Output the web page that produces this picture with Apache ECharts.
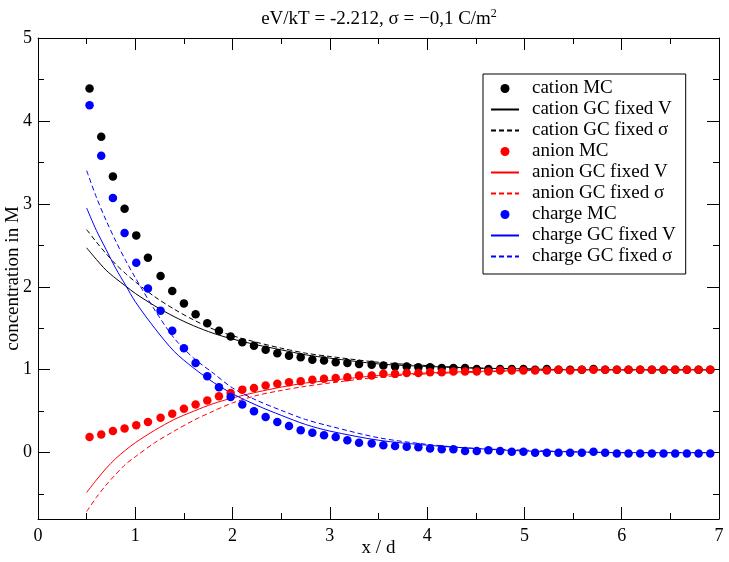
<!DOCTYPE html>
<html>
<head>
<meta charset="utf-8">
<script src="https://cdn.jsdelivr.net/npm/echarts@6/dist/echarts.min.js"></script>
<style>html,body{margin:0;padding:0;background:#fff;}#c{width:729px;height:562px;}</style>
</head>
<body>
<div id="c"></div>
<script>
// Monte Carlo sample positions (x / d)
const mcX = [0.53,0.65,0.77,0.89,1.01,1.13,1.26,1.38,1.50,1.62,1.74,1.86,1.98,2.10,2.22,2.34,2.46,2.58,2.70,2.82,2.94,3.06,3.18,3.30,3.43,3.55,3.67,3.79,3.91,4.03,4.15,4.27,4.39,4.51,4.63,4.75,4.87,4.99,5.11,5.23,5.35,5.47,5.59,5.71,5.83,5.95,6.07,6.19,6.31,6.43,6.55,6.67,6.79,6.91];
const cationMC = [4.39,3.81,3.33,2.94,2.62,2.35,2.13,1.95,1.80,1.67,1.56,1.47,1.40,1.33,1.29,1.24,1.20,1.17,1.15,1.12,1.11,1.09,1.08,1.07,1.06,1.05,1.04,1.04,1.03,1.03,1.02,1.02,1.02,1.01,1.01,1.01,1.01,1.01,1.00,1.01,1.00,1.00,1.00,1.01,1.00,1.00,1.00,1.00,1.00,1.00,1.00,1.00,1.00,1.00];
const anionMC = [0.19,0.22,0.26,0.29,0.33,0.37,0.42,0.47,0.53,0.58,0.63,0.68,0.72,0.76,0.78,0.81,0.83,0.85,0.86,0.88,0.89,0.90,0.91,0.93,0.93,0.95,0.95,0.96,0.96,0.97,0.97,0.98,0.98,0.98,0.98,0.99,0.99,0.99,0.99,0.99,1.00,0.99,1.00,1.00,1.00,1.00,1.00,1.00,1.00,1.00,1.00,1.00,1.00,1.00];
const chargeMC = [4.19,3.58,3.07,2.65,2.29,1.98,1.71,1.47,1.26,1.08,0.92,0.79,0.67,0.58,0.50,0.43,0.37,0.32,0.27,0.24,0.21,0.19,0.15,0.12,0.11,0.09,0.08,0.07,0.065,0.05,0.04,0.04,0.02,0.02,0.03,0.02,0.01,0.01,0.00,0.00,0.00,0.00,0.00,0.01,0.00,-0.01,-0.01,-0.01,-0.01,-0.01,-0.01,-0.01,-0.01,-0.01];

// Gouy-Chapman curves
const lineX = [0.5,0.6,0.7,0.8,0.9,1.0,1.2,1.4,1.6,1.8,2.0,2.25,2.5,2.75,3.0,3.5,4.0,4.5,5.0,5.5,6.0,6.5,6.95];
const cationV = [2.47,2.33,2.20,2.10,2.01,1.92,1.77,1.64,1.53,1.44,1.37,1.30,1.24,1.18,1.14,1.07,1.04,1.02,1.01,1.00,1.00,1.00,1.00];
const cationS = [2.69,2.54,2.40,2.27,2.16,2.06,1.88,1.73,1.60,1.49,1.41,1.33,1.26,1.20,1.16,1.09,1.05,1.02,1.01,1.00,1.00,1.00,1.00];
const anionV = [-0.48,-0.33,-0.19,-0.07,0.03,0.12,0.27,0.40,0.50,0.59,0.66,0.73,0.79,0.84,0.87,0.93,0.96,0.98,0.99,1.00,1.00,1.00,1.00];
const anionS = [-0.71,-0.54,-0.39,-0.26,-0.14,-0.05,0.12,0.26,0.39,0.50,0.60,0.69,0.75,0.80,0.84,0.91,0.95,0.97,0.99,1.00,1.00,1.00,1.00];
const chargeV = [2.95,2.68,2.45,2.22,2.02,1.82,1.50,1.22,1.02,0.85,0.71,0.57,0.45,0.34,0.26,0.15,0.09,0.05,0.02,0.01,0.00,0.00,0.00];
const chargeS = [3.40,3.08,2.80,2.55,2.32,2.11,1.72,1.38,1.14,0.96,0.78,0.63,0.51,0.40,0.32,0.18,0.10,0.05,0.03,0.01,0.00,0.00,0.00];

const yMajor = [0,1,2,3,4,5];
const yMinor = [-0.5,0.5,1.5,2.5,3.5,4.5];
const legendNames = ['cation MC','cation GC fixed V','cation GC fixed σ','anion MC','anion GC fixed V','anion GC fixed σ','charge MC','charge GC fixed V','charge GC fixed σ'];

const FONT = 'Liberation Serif';
const zip = (xs, ys) => xs.map((x, i) => [x, ys[i]]);

function scatter(name, color, ys) {
  return { name, type: 'scatter', data: zip(mcX, ys), symbol: 'circle', symbolSize: 8.5,
    itemStyle: { color, opacity: 1 }, z: 3 };
}
function line(name, color, ys, dashed) {
  return { name, type: 'line', data: zip(lineX, ys), showSymbol: false, symbol: 'none', smooth: 0.3,
    lineStyle: { color, width: 1, type: dashed ? [5, 3] : 'solid' }, itemStyle: { color }, z: 2 };
}

const axisCommonX = {
  type: 'value', min: 0, max: 7, interval: 1,
  axisLine: { onZero: false, lineStyle: { color: '#000', width: 1 } },
  axisTick: { inside: true, length: 12, lineStyle: { color: '#000' } },
  minorTick: { show: true, splitNumber: 2, length: 6, lineStyle: { color: '#000' } },
  splitLine: { show: false }, minorSplitLine: { show: false }
};
function yAx(position, values, len, labels, lineShow) {
  return {
    type: 'value', min: -0.8, max: 5, position,
    axisLine: { show: lineShow, onZero: false, lineStyle: { color: '#000', width: 1 } },
    axisTick: { show: true, inside: true, length: len, customValues: values, lineStyle: { color: '#000' } },
    axisLabel: labels ? { show: true, customValues: yMajor, color: '#000', fontFamily: FONT, fontSize: 18, margin: 6 } : { show: false },
    splitLine: { show: false }
  };
}

const chart = echarts.init(document.getElementById('c'), null, { renderer: 'canvas' });
chart.setOption({
  animation: false,
  backgroundColor: '#fff',
  title: {
    text: '{a|eV/kT = -2.212, σ = −0,1 C/m}{s|2}',
    left: 374, top: 3, textAlign: 'center',
    textStyle: { fontWeight: 'normal', rich: {
      a: { fontFamily: FONT, fontSize: 19, fontWeight: 'normal', color: '#000' },
      s: { fontFamily: FONT, fontSize: 12, fontWeight: 'normal', color: '#000', padding: [0, 0, 11, 0] }
    } }
  },
  grid: { left: 38, right: 10, top: 38, bottom: 43, containLabel: false, outerBoundsMode: 'none' },
  legend: {
    orient: 'vertical', left: 483, top: 74,
    padding: [5, 10, 8, 7], itemGap: 2, itemWidth: 28, itemHeight: 9,
    borderColor: '#000', borderWidth: 1, backgroundColor: '#fff', borderRadius: 0,
    textStyle: { fontFamily: FONT, fontSize: 19, color: '#000', padding: [0, 0, 0, 8] },
    data: legendNames.map(n => n.indexOf('MC') >= 0 ? { name: n } : { name: n, itemStyle: { opacity: 0 } })
  },
  xAxis: [
    Object.assign({}, axisCommonX, { position: 'bottom',
      axisLabel: { color: '#000', fontFamily: FONT, fontSize: 18, margin: 8 },
      name: 'x / d', nameLocation: 'middle', nameGap: 20, nameMoveOverlap: false,
      nameTextStyle: { fontFamily: FONT, fontSize: 19, color: '#000' } }),
    Object.assign({}, axisCommonX, { position: 'top', axisLabel: { show: false } })
  ],
  yAxis: [
    Object.assign(yAx('left', yMajor, 12, true, true), {
      name: 'concentration in M', nameLocation: 'middle', nameGap: 15, nameMoveOverlap: false,
      nameTextStyle: { fontFamily: FONT, fontSize: 19, color: '#000' } }),
    yAx('left', yMinor, 6, false, false),
    yAx('right', yMajor, 12, false, true),
    yAx('right', yMinor, 6, false, false)
  ],
  series: [
    scatter('cation MC', '#000000', cationMC),
    line('cation GC fixed V', '#000000', cationV, false),
    line('cation GC fixed σ', '#000000', cationS, true),
    scatter('anion MC', '#ff0000', anionMC),
    line('anion GC fixed V', '#ff0000', anionV, false),
    line('anion GC fixed σ', '#ff0000', anionS, true),
    scatter('charge MC', '#0000ff', chargeMC),
    line('charge GC fixed V', '#0000ff', chargeV, false),
    line('charge GC fixed σ', '#0000ff', chargeS, true)
  ]
});
</script>
</body>
</html>
